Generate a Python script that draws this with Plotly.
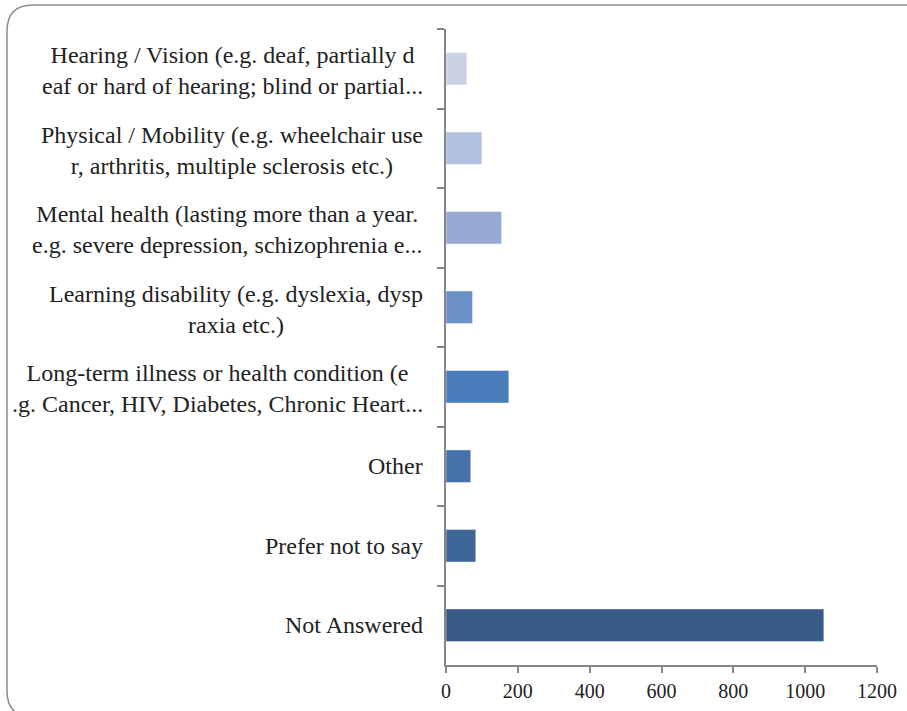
import plotly.graph_objects as go

categories = [
    "Hearing / Vision (e.g. deaf, partially d<br>eaf or hard of hearing; blind or partial...",
    "Physical / Mobility (e.g. wheelchair use<br>r, arthritis, multiple sclerosis etc.)",
    "Mental health (lasting more than a year.<br>e.g. severe depression, schizophrenia e...",
    "Learning disability (e.g. dyslexia, dysp<br>raxia etc.)",
    "Long-term illness or health condition (e<br>.g. Cancer, HIV, Diabetes, Chronic Heart...",
    "Other",
    "Prefer not to say",
    "Not Answered",
]
counts = [58, 100, 155, 74, 175, 69, 83, 1052]
bar_colors = ["#C9D2E5", "#B0C1DD", "#97AAD3", "#6C92C7",
              "#4A7EBA", "#4572AA", "#3F6699", "#375A87"]
x_ticks = [0, 200, 400, 600, 800, 1000, 1200]

W, H = 907, 711
L, R, T, B = 446, 30, 29, 46
FONT = "Liberation Serif"


def px(x):
    return (x - L) / (W - L - R)


def py(y):
    return (H - B - y) / (H - T - B)


fig = go.Figure(go.Bar(
    x=counts, y=categories, orientation="h",
    marker=dict(color=bar_colors, line=dict(color="rgba(255,255,255,0.45)", width=1)),
))

for cat in categories:
    fig.add_annotation(
        x=0, xref="paper", y=cat, yref="y", xanchor="right", xshift=-21,
        yshift=-2 if "<br>" in cat else 0,
        text=cat, showarrow=False, align="center",
        font=dict(family=FONT, size=24, color="#222"),
    )

# rounded chart frame, partly clipped by the page
x0, y0, x1, y1, r = 7, 5, 930, 717, 26
path = (f"M {px(x0)},{py(y0 + r)} Q {px(x0)},{py(y0)} {px(x0 + r)},{py(y0)} "
        f"L {px(x1 - r)},{py(y0)} Q {px(x1)},{py(y0)} {px(x1)},{py(y0 + r)} "
        f"L {px(x1)},{py(y1 - r)} Q {px(x1)},{py(y1)} {px(x1 - r)},{py(y1)} "
        f"L {px(x0 + r)},{py(y1)} Q {px(x0)},{py(y1)} {px(x0)},{py(y1 - r)} Z")
fig.add_shape(type="path", path=path, xref="paper", yref="paper",
              line=dict(color="#8C8C8C", width=1.5), layer="below")

fig.update_layout(
    width=W, height=H,
    margin=dict(l=L, r=R, t=T, b=B),
    paper_bgcolor="white", plot_bgcolor="white",
    showlegend=False, bargap=0.59,
    font=dict(family=FONT, color="#222"),
    xaxis=dict(range=[0, 1200], tickvals=x_ticks, showgrid=False, zeroline=False,
               showline=True, linecolor="#868686", linewidth=2, automargin=False,
               ticks="outside", ticklen=6, tickcolor="#868686", tickwidth=2,
               ticklabelstandoff=1,
               tickfont=dict(family=FONT, size=20, color="#222")),
    yaxis=dict(autorange="reversed", showticklabels=False, showgrid=False,
               showline=True, linecolor="#868686", linewidth=2, automargin=False,
               ticks="outside", ticklen=7, tickcolor="#868686", tickwidth=2,
               tickson="boundaries"),
)

fig.write_html("out.html", config={"displayModeBar": False},
               post_script="document.body.style.margin='0';")
